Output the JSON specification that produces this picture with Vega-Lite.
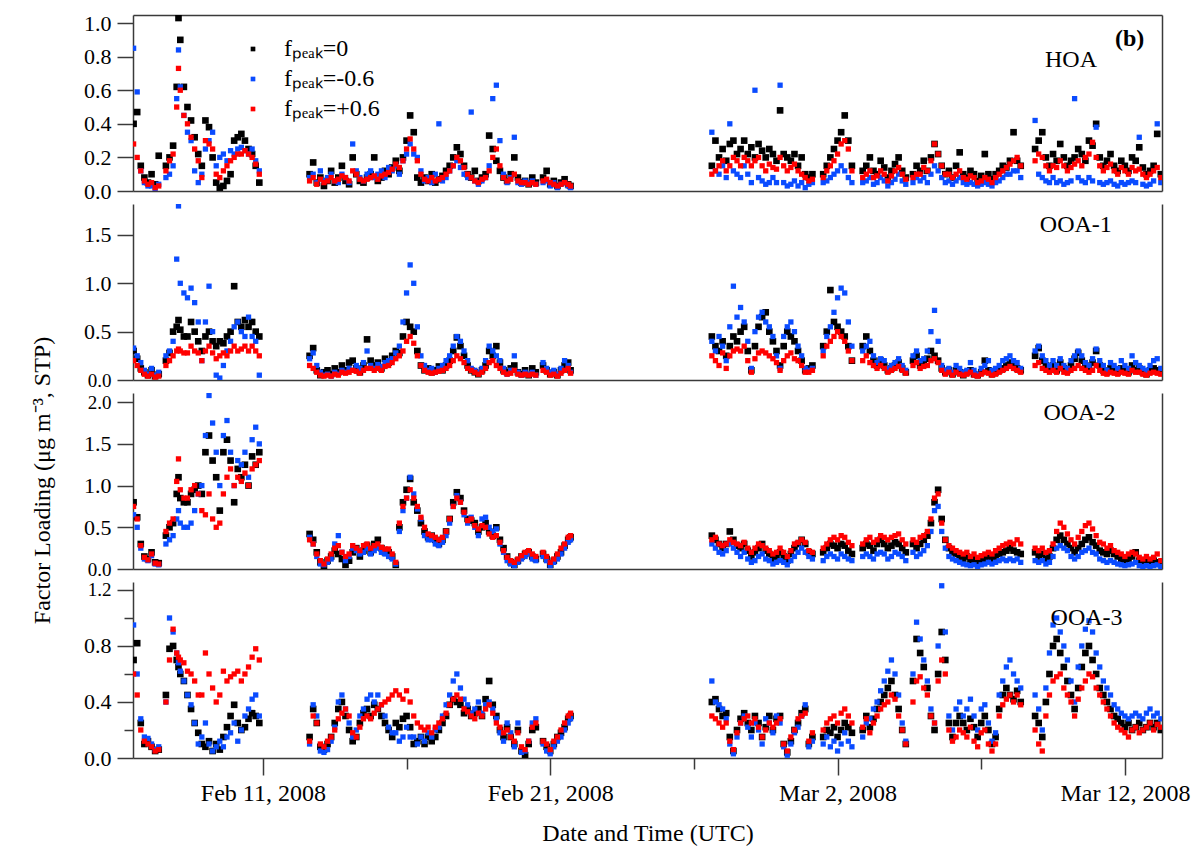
{
"$schema":"https://vega.github.io/schema/vega-lite/v6.json",
"background":"white",
"padding":{"left":30,"top":12,"right":5,"bottom":5},
"config":{
 "font":"Liberation Serif",
 "view":{"stroke":null},
 "axis":{"labelFont":"Liberation Serif","titleFont":"Liberation Serif","labelFontSize":24,"titleFontSize":24,"labelColor":"#000","titleColor":"#000","titleFontWeight":"normal","domainColor":"#3a3a3a","tickColor":"#3a3a3a","domainWidth":1.5,"tickWidth":1.5,"grid":false,"labelOverlap":false,"labelFlush":false},
 "axisY":{"tickSize":16,"labelPadding":6,"labelFontSize":22},
 "axisX":{"tickSize":17,"labelPadding":6}
},
"data":{"values":[
{"t":"2008-02-06T12:00Z","h0":0.40,"h1":0.85,"h2":0.28,"p0":0.30,"p1":0.33,"p2":0.20,"q0":0.80,"q1":0.65,"q2":0.75,"r0":0.70,"r1":0.95,"r2":0.60},
{"t":"2008-02-06T15:00Z","h0":0.47,"h1":0.59,"h2":0.20,"p0":0.22,"p1":0.25,"p2":0.15,"q0":0.62,"q1":0.50,"q2":0.60,"r0":0.82,"r1":0.60,"r2":0.45},
{"t":"2008-02-06T18:00Z","h0":0.15,"h1":0.12,"h2":0.12,"p0":0.12,"p1":0.18,"p2":0.10,"q0":0.30,"q1":0.25,"q2":0.28,"r0":0.25,"r1":0.28,"r2":0.20},
{"t":"2008-02-06T21:00Z","h0":0.08,"h1":0.05,"h2":0.06,"p0":0.08,"p1":0.10,"p2":0.06,"q0":0.15,"q1":0.12,"q2":0.14,"r0":0.10,"r1":0.15,"r2":0.12},
{"t":"2008-02-07T00:00Z","h0":0.05,"h1":0.03,"h2":0.04,"p0":0.05,"p1":0.06,"p2":0.04,"q0":0.12,"q1":0.10,"q2":0.11,"r0":0.12,"r1":0.14,"r2":0.10},
{"t":"2008-02-07T03:00Z","h0":0.10,"h1":0.03,"h2":0.05,"p0":0.10,"p1":0.12,"p2":0.06,"q0":0.20,"q1":0.16,"q2":0.18,"r0":0.08,"r1":0.10,"r2":0.08},
{"t":"2008-02-07T06:00Z","h0":0.04,"h1":0.01,"h2":0.02,"p0":0.04,"p1":0.05,"p2":0.03,"q0":0.08,"q1":0.06,"q2":0.07,"r0":0.05,"r1":0.06,"r2":0.05},
{"t":"2008-02-07T09:00Z","h0":0.21,"h1":0.04,"h2":0.03,"p0":0.06,"p1":0.08,"p2":0.04,"q0":0.07,"q1":0.05,"q2":0.06,"r0":0.06,"r1":0.08,"r2":0.06},
{"t":"2008-02-07T15:00Z","h0":0.15,"h1":0.08,"h2":0.12,"p0":0.20,"p1":0.25,"p2":0.15,"q0":0.40,"q1":0.30,"q2":0.45,"r0":0.45,"r1":0.40,"r2":0.40},
{"t":"2008-02-07T18:00Z","h0":0.20,"h1":0.10,"h2":0.18,"p0":0.28,"p1":0.30,"p2":0.20,"q0":0.50,"q1":0.35,"q2":0.55,"r0":0.78,"r1":1.00,"r2":0.70},
{"t":"2008-02-07T21:00Z","h0":0.27,"h1":0.15,"h2":0.22,"p0":0.50,"p1":0.40,"p2":0.25,"q0":0.55,"q1":0.40,"q2":0.60,"r0":0.80,"r1":0.90,"r2":0.92},
{"t":"2008-02-08T00:00Z","h0":0.62,"h1":0.55,"h2":0.50,"p0":0.55,"p1":1.25,"p2":0.30,"q0":0.90,"q1":0.60,"q2":1.05,"r0":0.70,"r1":0.75,"r2":0.75},
{"t":"2008-02-08T01:30Z","h0":1.03,"h1":0.84,"h2":0.73,"p0":0.62,"p1":1.80,"p2":0.32,"q0":1.10,"q1":0.70,"q2":1.32,"r0":0.65,"r1":0.68,"r2":0.72},
{"t":"2008-02-08T03:00Z","h0":0.90,"h1":0.62,"h2":0.60,"p0":0.52,"p1":1.00,"p2":0.30,"q0":0.85,"q1":0.55,"q2":0.95,"r0":0.60,"r1":0.62,"r2":0.70},
{"t":"2008-02-08T06:00Z","h0":0.62,"h1":0.45,"h2":0.45,"p0":0.45,"p1":0.90,"p2":0.28,"q0":0.80,"q1":0.50,"q2":0.85,"r0":0.55,"r1":0.55,"r2":0.68},
{"t":"2008-02-08T09:00Z","h0":0.50,"h1":0.35,"h2":0.40,"p0":0.45,"p1":0.85,"p2":0.28,"q0":0.80,"q1":0.50,"q2":0.85,"r0":0.45,"r1":0.45,"r2":0.62},
{"t":"2008-02-08T12:00Z","h0":0.42,"h1":0.30,"h2":0.32,"p0":0.60,"p1":0.95,"p2":0.35,"q0":0.90,"q1":0.55,"q2":0.95,"r0":0.35,"r1":0.38,"r2":0.60},
{"t":"2008-02-08T15:00Z","h0":0.32,"h1":0.12,"h2":0.25,"p0":0.50,"p1":0.80,"p2":0.30,"q0":0.95,"q1":0.70,"q2":1.00,"r0":0.25,"r1":0.25,"r2":0.55},
{"t":"2008-02-08T18:00Z","h0":0.22,"h1":0.05,"h2":0.18,"p0":0.40,"p1":0.60,"p2":0.28,"q0":1.00,"q1":0.90,"q2":0.90,"r0":0.18,"r1":0.10,"r2":0.45},
{"t":"2008-02-08T21:00Z","h0":0.15,"h1":0.10,"h2":0.08,"p0":0.30,"p1":0.20,"p2":0.20,"q0":0.90,"q1":1.00,"q2":0.70,"r0":0.10,"r1":0.15,"r2":0.45},
{"t":"2008-02-09T00:00Z","h0":0.42,"h1":0.25,"h2":0.30,"p0":0.45,"p1":0.60,"p2":0.30,"q0":1.40,"q1":1.60,"q2":0.65,"r0":0.08,"r1":0.25,"r2":0.75},
{"t":"2008-02-09T03:00Z","h0":0.38,"h1":0.30,"h2":0.28,"p0":0.50,"p1":0.97,"p2":0.35,"q0":1.60,"q1":2.08,"q2":0.90,"r0":0.12,"r1":0.10,"r2":0.60},
{"t":"2008-02-09T06:00Z","h0":0.20,"h1":0.35,"h2":0.25,"p0":0.40,"p1":0.50,"p2":0.28,"q0":1.30,"q1":1.75,"q2":0.60,"r0":0.05,"r1":0.05,"r2":0.50},
{"t":"2008-02-09T09:00Z","h0":0.05,"h1":0.15,"h2":0.10,"p0":0.35,"p1":0.05,"p2":0.22,"q0":1.10,"q1":1.40,"q2":0.50,"r0":0.10,"r1":0.08,"r2":0.40},
{"t":"2008-02-09T12:00Z","h0":0.02,"h1":0.20,"h2":0.08,"p0":0.40,"p1":0.02,"p2":0.25,"q0":0.70,"q1":1.00,"q2":0.55,"r0":0.06,"r1":0.12,"r2":0.45},
{"t":"2008-02-09T15:00Z","h0":0.03,"h1":0.22,"h2":0.12,"p0":0.38,"p1":0.15,"p2":0.28,"q0":1.40,"q1":1.60,"q2":0.90,"r0":0.15,"r1":0.08,"r2":0.62},
{"t":"2008-02-09T18:00Z","h0":0.06,"h1":0.18,"h2":0.15,"p0":0.45,"p1":0.30,"p2":0.25,"q0":1.55,"q1":1.78,"q2":1.10,"r0":0.22,"r1":0.15,"r2":0.55},
{"t":"2008-02-09T21:00Z","h0":0.10,"h1":0.24,"h2":0.18,"p0":0.50,"p1":0.40,"p2":0.30,"q0":1.30,"q1":1.40,"q2":1.20,"r0":0.30,"r1":0.18,"r2":0.58},
{"t":"2008-02-10T00:00Z","h0":0.30,"h1":0.22,"h2":0.20,"p0":0.97,"p1":0.55,"p2":0.35,"q0":0.80,"q1":1.00,"q2":1.00,"r0":0.38,"r1":0.25,"r2":0.60},
{"t":"2008-02-10T03:00Z","h0":0.32,"h1":0.25,"h2":0.22,"p0":0.60,"p1":0.60,"p2":0.30,"q0":1.20,"q1":1.30,"q2":1.10,"r0":0.25,"r1":0.12,"r2":0.62},
{"t":"2008-02-10T06:00Z","h0":0.34,"h1":0.26,"h2":0.22,"p0":0.55,"p1":0.50,"p2":0.32,"q0":1.10,"q1":1.25,"q2":1.05,"r0":0.20,"r1":0.20,"r2":0.55},
{"t":"2008-02-10T09:00Z","h0":0.30,"h1":0.24,"h2":0.24,"p0":0.62,"p1":0.45,"p2":0.35,"q0":1.25,"q1":1.40,"q2":1.15,"r0":0.22,"r1":0.30,"r2":0.60},
{"t":"2008-02-10T12:00Z","h0":0.25,"h1":0.22,"h2":0.22,"p0":0.55,"p1":0.65,"p2":0.30,"q0":1.00,"q1":1.10,"q2":1.00,"r0":0.28,"r1":0.35,"r2":0.65},
{"t":"2008-02-10T15:00Z","h0":0.22,"h1":0.25,"h2":0.20,"p0":0.60,"p1":0.45,"p2":0.35,"q0":1.35,"q1":1.55,"q2":1.20,"r0":0.32,"r1":0.42,"r2":0.72},
{"t":"2008-02-10T18:00Z","h0":0.15,"h1":0.18,"h2":0.16,"p0":0.50,"p1":0.40,"p2":0.30,"q0":1.25,"q1":1.70,"q2":1.25,"r0":0.30,"r1":0.45,"r2":0.78},
{"t":"2008-02-10T21:00Z","h0":0.05,"h1":0.12,"h2":0.10,"p0":0.45,"p1":0.05,"p2":0.25,"q0":1.40,"q1":1.50,"q2":1.30,"r0":0.25,"r1":0.30,"r2":0.70},
{"t":"2008-02-12T15:00Z","h0":0.10,"h1":0.08,"h2":0.06,"p0":0.25,"p1":0.22,"p2":0.15,"q0":0.42,"q1":0.38,"q2":0.35,"r0":0.15,"r1":0.10,"r2":0.12},
{"t":"2008-02-12T18:00Z","h0":0.17,"h1":0.10,"h2":0.08,"p0":0.33,"p1":0.28,"p2":0.12,"q0":0.35,"q1":0.30,"q2":0.30,"r0":0.35,"r1":0.38,"r2":0.30},
{"t":"2008-02-12T21:00Z","h0":0.05,"h1":0.05,"h2":0.04,"p0":0.10,"p1":0.15,"p2":0.08,"q0":0.20,"q1":0.15,"q2":0.18,"r0":0.25,"r1":0.30,"r2":0.25},
{"t":"2008-02-13T00:00Z","h0":0.08,"h1":0.12,"h2":0.07,"p0":0.05,"p1":0.08,"p2":0.05,"q0":0.08,"q1":0.06,"q2":0.10,"r0":0.08,"r1":0.05,"r2":0.10},
{"t":"2008-02-13T03:00Z","h0":0.03,"h1":0.06,"h2":0.05,"p0":0.08,"p1":0.05,"p2":0.04,"q0":0.03,"q1":0.05,"q2":0.06,"r0":0.06,"r1":0.04,"r2":0.08},
{"t":"2008-02-13T06:00Z","h0":0.06,"h1":0.08,"h2":0.06,"p0":0.10,"p1":0.06,"p2":0.05,"q0":0.10,"q1":0.08,"q2":0.12,"r0":0.10,"r1":0.06,"r2":0.12},
{"t":"2008-02-13T09:00Z","h0":0.12,"h1":0.10,"h2":0.08,"p0":0.06,"p1":0.04,"p2":0.04,"q0":0.15,"q1":0.12,"q2":0.18,"r0":0.15,"r1":0.12,"r2":0.15},
{"t":"2008-02-13T12:00Z","h0":0.05,"h1":0.06,"h2":0.06,"p0":0.12,"p1":0.08,"p2":0.06,"q0":0.22,"q1":0.30,"q2":0.25,"r0":0.25,"r1":0.22,"r2":0.20},
{"t":"2008-02-13T15:00Z","h0":0.08,"h1":0.05,"h2":0.07,"p0":0.08,"p1":0.06,"p2":0.05,"q0":0.18,"q1":0.40,"q2":0.28,"r0":0.35,"r1":0.40,"r2":0.28},
{"t":"2008-02-13T18:00Z","h0":0.15,"h1":0.10,"h2":0.09,"p0":0.15,"p1":0.10,"p2":0.08,"q0":0.12,"q1":0.20,"q2":0.20,"r0":0.40,"r1":0.45,"r2":0.32},
{"t":"2008-02-13T21:00Z","h0":0.06,"h1":0.08,"h2":0.08,"p0":0.10,"p1":0.08,"p2":0.07,"q0":0.05,"q1":0.10,"q2":0.15,"r0":0.30,"r1":0.35,"r2":0.35},
{"t":"2008-02-14T00:00Z","h0":0.04,"h1":0.05,"h2":0.06,"p0":0.18,"p1":0.12,"p2":0.08,"q0":0.10,"q1":0.15,"q2":0.18,"r0":0.20,"r1":0.25,"r2":0.30},
{"t":"2008-02-14T03:00Z","h0":0.20,"h1":0.28,"h2":0.12,"p0":0.20,"p1":0.10,"p2":0.10,"q0":0.20,"q1":0.25,"q2":0.28,"r0":0.12,"r1":0.15,"r2":0.18},
{"t":"2008-02-14T06:00Z","h0":0.10,"h1":0.12,"h2":0.10,"p0":0.12,"p1":0.15,"p2":0.09,"q0":0.25,"q1":0.22,"q2":0.25,"r0":0.15,"r1":0.20,"r2":0.15},
{"t":"2008-02-14T09:00Z","h0":0.06,"h1":0.08,"h2":0.07,"p0":0.08,"p1":0.12,"p2":0.07,"q0":0.15,"q1":0.18,"q2":0.22,"r0":0.25,"r1":0.30,"r2":0.22},
{"t":"2008-02-14T12:00Z","h0":0.05,"h1":0.06,"h2":0.06,"p0":0.15,"p1":0.18,"p2":0.10,"q0":0.22,"q1":0.20,"q2":0.28,"r0":0.32,"r1":0.35,"r2":0.28},
{"t":"2008-02-14T15:00Z","h0":0.08,"h1":0.10,"h2":0.07,"p0":0.42,"p1":0.30,"p2":0.12,"q0":0.28,"q1":0.25,"q2":0.30,"r0":0.35,"r1":0.42,"r2":0.30},
{"t":"2008-02-14T18:00Z","h0":0.10,"h1":0.12,"h2":0.08,"p0":0.20,"p1":0.15,"p2":0.12,"q0":0.20,"q1":0.18,"q2":0.25,"r0":0.30,"r1":0.45,"r2":0.28},
{"t":"2008-02-14T21:00Z","h0":0.20,"h1":0.08,"h2":0.09,"p0":0.15,"p1":0.12,"p2":0.10,"q0":0.30,"q1":0.22,"q2":0.28,"r0":0.38,"r1":0.40,"r2":0.32},
{"t":"2008-02-15T00:00Z","h0":0.06,"h1":0.10,"h2":0.07,"p0":0.18,"p1":0.16,"p2":0.12,"q0":0.35,"q1":0.25,"q2":0.30,"r0":0.35,"r1":0.45,"r2":0.35},
{"t":"2008-02-15T03:00Z","h0":0.08,"h1":0.12,"h2":0.09,"p0":0.12,"p1":0.14,"p2":0.10,"q0":0.25,"q1":0.20,"q2":0.26,"r0":0.30,"r1":0.38,"r2":0.38},
{"t":"2008-02-15T06:00Z","h0":0.12,"h1":0.08,"h2":0.10,"p0":0.22,"p1":0.18,"p2":0.14,"q0":0.20,"q1":0.18,"q2":0.24,"r0":0.25,"r1":0.30,"r2":0.40},
{"t":"2008-02-15T09:00Z","h0":0.10,"h1":0.14,"h2":0.11,"p0":0.18,"p1":0.20,"p2":0.15,"q0":0.20,"q1":0.15,"q2":0.24,"r0":0.20,"r1":0.22,"r2":0.42},
{"t":"2008-02-15T12:00Z","h0":0.14,"h1":0.12,"h2":0.13,"p0":0.25,"p1":0.22,"p2":0.18,"q0":0.15,"q1":0.12,"q2":0.18,"r0":0.15,"r1":0.18,"r2":0.45},
{"t":"2008-02-15T15:00Z","h0":0.18,"h1":0.15,"h2":0.16,"p0":0.30,"p1":0.28,"p2":0.22,"q0":0.05,"q1":0.06,"q2":0.08,"r0":0.25,"r1":0.18,"r2":0.48},
{"t":"2008-02-15T18:00Z","h0":0.12,"h1":0.10,"h2":0.14,"p0":0.28,"p1":0.35,"p2":0.25,"q0":0.50,"q1":0.45,"q2":0.55,"r0":0.22,"r1":0.12,"r2":0.45},
{"t":"2008-02-15T21:00Z","h0":0.20,"h1":0.18,"h2":0.18,"p0":0.45,"p1":0.60,"p2":0.30,"q0":0.80,"q1":0.70,"q2":0.75,"r0":0.28,"r1":0.15,"r2":0.42},
{"t":"2008-02-16T00:00Z","h0":0.30,"h1":0.22,"h2":0.25,"p0":0.60,"p1":0.90,"p2":0.40,"q0":0.95,"q1":0.85,"q2":0.85,"r0":0.30,"r1":0.22,"r2":0.48},
{"t":"2008-02-16T03:00Z","h0":0.45,"h1":0.28,"h2":0.31,"p0":0.55,"p1":1.19,"p2":0.45,"q0":1.08,"q1":1.10,"q2":0.95,"r0":0.22,"r1":0.15,"r2":0.40},
{"t":"2008-02-16T06:00Z","h0":0.35,"h1":0.22,"h2":0.25,"p0":0.50,"p1":1.00,"p2":0.38,"q0":0.80,"q1":0.90,"q2":0.85,"r0":0.10,"r1":0.15,"r2":0.30},
{"t":"2008-02-16T09:00Z","h0":0.08,"h1":0.20,"h2":0.18,"p0":0.30,"p1":0.55,"p2":0.25,"q0":0.70,"q1":0.72,"q2":0.75,"r0":0.12,"r1":0.10,"r2":0.25},
{"t":"2008-02-16T12:00Z","h0":0.05,"h1":0.12,"h2":0.10,"p0":0.15,"p1":0.25,"p2":0.15,"q0":0.55,"q1":0.60,"q2":0.62,"r0":0.15,"r1":0.15,"r2":0.22},
{"t":"2008-02-16T15:00Z","h0":0.08,"h1":0.06,"h2":0.07,"p0":0.10,"p1":0.15,"p2":0.10,"q0":0.45,"q1":0.40,"q2":0.50,"r0":0.10,"r1":0.12,"r2":0.20},
{"t":"2008-02-16T18:00Z","h0":0.06,"h1":0.08,"h2":0.06,"p0":0.12,"p1":0.10,"p2":0.08,"q0":0.38,"q1":0.35,"q2":0.42,"r0":0.15,"r1":0.18,"r2":0.22},
{"t":"2008-02-16T21:00Z","h0":0.10,"h1":0.05,"h2":0.08,"p0":0.08,"p1":0.12,"p2":0.07,"q0":0.40,"q1":0.35,"q2":0.40,"r0":0.12,"r1":0.15,"r2":0.18},
{"t":"2008-02-17T00:00Z","h0":0.05,"h1":0.10,"h2":0.06,"p0":0.10,"p1":0.08,"p2":0.08,"q0":0.35,"q1":0.30,"q2":0.38,"r0":0.15,"r1":0.20,"r2":0.22},
{"t":"2008-02-17T03:00Z","h0":0.07,"h1":0.40,"h2":0.07,"p0":0.14,"p1":0.12,"p2":0.09,"q0":0.30,"q1":0.28,"q2":0.35,"r0":0.20,"r1":0.22,"r2":0.25},
{"t":"2008-02-17T06:00Z","h0":0.09,"h1":0.06,"h2":0.08,"p0":0.10,"p1":0.15,"p2":0.10,"q0":0.35,"q1":0.32,"q2":0.38,"r0":0.25,"r1":0.30,"r2":0.28},
{"t":"2008-02-17T09:00Z","h0":0.12,"h1":0.08,"h2":0.10,"p0":0.15,"p1":0.20,"p2":0.12,"q0":0.45,"q1":0.40,"q2":0.45,"r0":0.30,"r1":0.38,"r2":0.32},
{"t":"2008-02-17T12:00Z","h0":0.15,"h1":0.12,"h2":0.12,"p0":0.20,"p1":0.25,"p2":0.15,"q0":0.60,"q1":0.55,"q2":0.60,"r0":0.38,"r1":0.45,"r2":0.38},
{"t":"2008-02-17T15:00Z","h0":0.20,"h1":0.15,"h2":0.15,"p0":0.30,"p1":0.35,"p2":0.20,"q0":0.80,"q1":0.75,"q2":0.75,"r0":0.42,"r1":0.55,"r2":0.42},
{"t":"2008-02-17T18:00Z","h0":0.26,"h1":0.18,"h2":0.20,"p0":0.44,"p1":0.45,"p2":0.25,"q0":0.92,"q1":0.88,"q2":0.85,"r0":0.40,"r1":0.60,"r2":0.45},
{"t":"2008-02-17T21:00Z","h0":0.22,"h1":0.14,"h2":0.18,"p0":0.35,"p1":0.40,"p2":0.22,"q0":0.85,"q1":0.80,"q2":0.80,"r0":0.38,"r1":0.50,"r2":0.42},
{"t":"2008-02-18T00:00Z","h0":0.15,"h1":0.10,"h2":0.14,"p0":0.25,"p1":0.30,"p2":0.18,"q0":0.70,"q1":0.65,"q2":0.68,"r0":0.32,"r1":0.42,"r2":0.35},
{"t":"2008-02-18T03:00Z","h0":0.10,"h1":0.08,"h2":0.10,"p0":0.15,"p1":0.20,"p2":0.12,"q0":0.60,"q1":0.55,"q2":0.58,"r0":0.35,"r1":0.38,"r2":0.33},
{"t":"2008-02-18T06:00Z","h0":0.08,"h1":0.47,"h2":0.08,"p0":0.10,"p1":0.12,"p2":0.10,"q0":0.58,"q1":0.62,"q2":0.60,"r0":0.30,"r1":0.32,"r2":0.30},
{"t":"2008-02-18T09:00Z","h0":0.12,"h1":0.06,"h2":0.06,"p0":0.08,"p1":0.10,"p2":0.08,"q0":0.55,"q1":0.50,"q2":0.52,"r0":0.32,"r1":0.35,"r2":0.28},
{"t":"2008-02-18T12:00Z","h0":0.06,"h1":0.04,"h2":0.05,"p0":0.06,"p1":0.08,"p2":0.06,"q0":0.45,"q1":0.40,"q2":0.48,"r0":0.35,"r1":0.40,"r2":0.32},
{"t":"2008-02-18T15:00Z","h0":0.08,"h1":0.06,"h2":0.07,"p0":0.10,"p1":0.12,"p2":0.08,"q0":0.50,"q1":0.60,"q2":0.52,"r0":0.30,"r1":0.32,"r2":0.30},
{"t":"2008-02-18T18:00Z","h0":0.10,"h1":0.08,"h2":0.08,"p0":0.15,"p1":0.20,"p2":0.12,"q0":0.55,"q1":0.62,"q2":0.50,"r0":0.42,"r1":0.38,"r2":0.35},
{"t":"2008-02-18T21:00Z","h0":0.33,"h1":0.15,"h2":0.12,"p0":0.30,"p1":0.35,"p2":0.18,"q0":0.45,"q1":0.50,"q2":0.42,"r0":0.55,"r1":0.40,"r2":0.38},
{"t":"2008-02-19T00:00Z","h0":0.25,"h1":0.55,"h2":0.20,"p0":0.25,"p1":0.30,"p2":0.20,"q0":0.40,"q1":0.45,"q2":0.38,"r0":0.38,"r1":0.35,"r2":0.32},
{"t":"2008-02-19T03:00Z","h0":0.18,"h1":0.63,"h2":0.25,"p0":0.35,"p1":0.25,"p2":0.15,"q0":0.50,"q1":0.48,"q2":0.40,"r0":0.30,"r1":0.28,"r2":0.25},
{"t":"2008-02-19T06:00Z","h0":0.12,"h1":0.30,"h2":0.15,"p0":0.18,"p1":0.20,"p2":0.12,"q0":0.35,"q1":0.30,"q2":0.32,"r0":0.20,"r1":0.18,"r2":0.22},
{"t":"2008-02-19T09:00Z","h0":0.08,"h1":0.10,"h2":0.08,"p0":0.10,"p1":0.12,"p2":0.08,"q0":0.25,"q1":0.20,"q2":0.22,"r0":0.15,"r1":0.12,"r2":0.18},
{"t":"2008-02-19T12:00Z","h0":0.06,"h1":0.05,"h2":0.06,"p0":0.08,"p1":0.06,"p2":0.06,"q0":0.15,"q1":0.10,"q2":0.14,"r0":0.22,"r1":0.25,"r2":0.20},
{"t":"2008-02-19T15:00Z","h0":0.10,"h1":0.08,"h2":0.07,"p0":0.12,"p1":0.10,"p2":0.07,"q0":0.08,"q1":0.06,"q2":0.10,"r0":0.15,"r1":0.18,"r2":0.15},
{"t":"2008-02-19T18:00Z","h0":0.20,"h1":0.32,"h2":0.10,"p0":0.15,"p1":0.25,"p2":0.10,"q0":0.05,"q1":0.04,"q2":0.08,"r0":0.10,"r1":0.08,"r2":0.12},
{"t":"2008-02-19T21:00Z","h0":0.08,"h1":0.05,"h2":0.06,"p0":0.08,"p1":0.08,"p2":0.06,"q0":0.10,"q1":0.08,"q2":0.12,"r0":0.20,"r1":0.25,"r2":0.18},
{"t":"2008-02-20T00:00Z","h0":0.05,"h1":0.04,"h2":0.05,"p0":0.06,"p1":0.05,"p2":0.05,"q0":0.15,"q1":0.12,"q2":0.16,"r0":0.05,"r1":0.04,"r2":0.08},
{"t":"2008-02-20T03:00Z","h0":0.06,"h1":0.06,"h2":0.05,"p0":0.10,"p1":0.08,"p2":0.06,"q0":0.18,"q1":0.15,"q2":0.20,"r0":0.02,"r1":0.05,"r2":0.06},
{"t":"2008-02-20T06:00Z","h0":0.04,"h1":0.05,"h2":0.04,"p0":0.05,"p1":0.06,"p2":0.05,"q0":0.20,"q1":0.18,"q2":0.22,"r0":0.10,"r1":0.12,"r2":0.12},
{"t":"2008-02-20T09:00Z","h0":0.08,"h1":0.06,"h2":0.05,"p0":0.12,"p1":0.08,"p2":0.06,"q0":0.15,"q1":0.12,"q2":0.18,"r0":0.20,"r1":0.25,"r2":0.22},
{"t":"2008-02-20T12:00Z","h0":0.05,"h1":0.04,"h2":0.04,"p0":0.08,"p1":0.05,"p2":0.05,"q0":0.12,"q1":0.10,"q2":0.15,"r0":0.22,"r1":0.28,"r2":0.25},
{"t":"2008-02-20T18:00Z","h0":0.08,"h1":0.05,"h2":0.06,"p0":0.15,"p1":0.18,"p2":0.10,"q0":0.18,"q1":0.15,"q2":0.20,"r0":0.12,"r1":0.10,"r2":0.12},
{"t":"2008-02-20T21:00Z","h0":0.12,"h1":0.06,"h2":0.07,"p0":0.10,"p1":0.12,"p2":0.08,"q0":0.12,"q1":0.10,"q2":0.15,"r0":0.08,"r1":0.05,"r2":0.10},
{"t":"2008-02-21T00:00Z","h0":0.04,"h1":0.03,"h2":0.05,"p0":0.06,"p1":0.08,"p2":0.05,"q0":0.05,"q1":0.04,"q2":0.08,"r0":0.05,"r1":0.03,"r2":0.06},
{"t":"2008-02-21T03:00Z","h0":0.06,"h1":0.05,"h2":0.04,"p0":0.08,"p1":0.10,"p2":0.06,"q0":0.10,"q1":0.08,"q2":0.12,"r0":0.10,"r1":0.08,"r2":0.12},
{"t":"2008-02-21T06:00Z","h0":0.03,"h1":0.02,"h2":0.03,"p0":0.05,"p1":0.06,"p2":0.04,"q0":0.15,"q1":0.12,"q2":0.18,"r0":0.15,"r1":0.12,"r2":0.15},
{"t":"2008-02-21T09:00Z","h0":0.05,"h1":0.04,"h2":0.04,"p0":0.10,"p1":0.12,"p2":0.07,"q0":0.20,"q1":0.18,"q2":0.25,"r0":0.18,"r1":0.15,"r2":0.20},
{"t":"2008-02-21T12:00Z","h0":0.07,"h1":0.05,"h2":0.05,"p0":0.15,"p1":0.20,"p2":0.10,"q0":0.28,"q1":0.25,"q2":0.30,"r0":0.22,"r1":0.20,"r2":0.25},
{"t":"2008-02-21T15:00Z","h0":0.04,"h1":0.03,"h2":0.04,"p0":0.18,"p1":0.15,"p2":0.12,"q0":0.35,"q1":0.32,"q2":0.38,"r0":0.28,"r1":0.25,"r2":0.30},
{"t":"2008-02-21T17:00Z","h0":0.03,"h1":0.02,"h2":0.03,"p0":0.10,"p1":0.08,"p2":0.07,"q0":0.38,"q1":0.35,"q2":0.40,"r0":0.30,"r1":0.28,"r2":0.32},
{"t":"2008-02-26T15:00Z","h0":0.15,"h1":0.35,"h2":0.10,"p0":0.45,"p1":0.40,"p2":0.25,"q0":0.40,"q1":0.30,"q2":0.35,"r0":0.40,"r1":0.55,"r2":0.30},
{"t":"2008-02-26T18:00Z","h0":0.30,"h1":0.12,"h2":0.12,"p0":0.35,"p1":0.30,"p2":0.20,"q0":0.35,"q1":0.25,"q2":0.38,"r0":0.42,"r1":0.40,"r2":0.28},
{"t":"2008-02-26T21:00Z","h0":0.20,"h1":0.10,"h2":0.15,"p0":0.30,"p1":0.45,"p2":0.15,"q0":0.30,"q1":0.20,"q2":0.30,"r0":0.35,"r1":0.38,"r2":0.25},
{"t":"2008-02-27T00:00Z","h0":0.25,"h1":0.15,"h2":0.18,"p0":0.40,"p1":0.35,"p2":0.28,"q0":0.25,"q1":0.18,"q2":0.28,"r0":0.30,"r1":0.35,"r2":0.22},
{"t":"2008-02-27T03:00Z","h0":0.18,"h1":0.08,"h2":0.12,"p0":0.25,"p1":0.20,"p2":0.12,"q0":0.30,"q1":0.22,"q2":0.30,"r0":0.32,"r1":0.28,"r2":0.25},
{"t":"2008-02-27T06:00Z","h0":0.28,"h1":0.40,"h2":0.15,"p0":0.35,"p1":0.55,"p2":0.25,"q0":0.45,"q1":0.30,"q2":0.35,"r0":0.15,"r1":0.10,"r2":0.12},
{"t":"2008-02-27T09:00Z","h0":0.30,"h1":0.12,"h2":0.20,"p0":0.45,"p1":0.97,"p2":0.30,"q0":0.35,"q1":0.25,"q2":0.32,"r0":0.05,"r1":0.03,"r2":0.06},
{"t":"2008-02-27T12:00Z","h0":0.22,"h1":0.10,"h2":0.18,"p0":0.40,"p1":0.65,"p2":0.32,"q0":0.28,"q1":0.20,"q2":0.30,"r0":0.20,"r1":0.15,"r2":0.18},
{"t":"2008-02-27T15:00Z","h0":0.25,"h1":0.08,"h2":0.15,"p0":0.50,"p1":0.75,"p2":0.30,"q0":0.25,"q1":0.15,"q2":0.28,"r0":0.28,"r1":0.25,"r2":0.25},
{"t":"2008-02-27T18:00Z","h0":0.30,"h1":0.15,"h2":0.20,"p0":0.55,"p1":0.60,"p2":0.35,"q0":0.30,"q1":0.20,"q2":0.32,"r0":0.32,"r1":0.30,"r2":0.28},
{"t":"2008-02-27T21:00Z","h0":0.22,"h1":0.10,"h2":0.18,"p0":0.30,"p1":0.40,"p2":0.20,"q0":0.22,"q1":0.12,"q2":0.25,"r0":0.25,"r1":0.22,"r2":0.30},
{"t":"2008-02-28T00:00Z","h0":0.26,"h1":0.05,"h2":0.15,"p0":0.10,"p1":0.12,"p2":0.08,"q0":0.15,"q1":0.08,"q2":0.20,"r0":0.20,"r1":0.15,"r2":0.25},
{"t":"2008-02-28T03:00Z","h0":0.20,"h1":0.60,"h2":0.18,"p0":0.35,"p1":0.50,"p2":0.22,"q0":0.20,"q1":0.10,"q2":0.25,"r0":0.30,"r1":0.25,"r2":0.28},
{"t":"2008-02-28T06:00Z","h0":0.28,"h1":0.08,"h2":0.20,"p0":0.55,"p1":0.65,"p2":0.28,"q0":0.25,"q1":0.15,"q2":0.30,"r0":0.25,"r1":0.20,"r2":0.22},
{"t":"2008-02-28T09:00Z","h0":0.24,"h1":0.06,"h2":0.15,"p0":0.65,"p1":0.70,"p2":0.30,"q0":0.30,"q1":0.18,"q2":0.28,"r0":0.15,"r1":0.10,"r2":0.15},
{"t":"2008-02-28T12:00Z","h0":0.20,"h1":0.04,"h2":0.12,"p0":0.70,"p1":0.60,"p2":0.28,"q0":0.22,"q1":0.12,"q2":0.25,"r0":0.22,"r1":0.28,"r2":0.20},
{"t":"2008-02-28T15:00Z","h0":0.25,"h1":0.05,"h2":0.16,"p0":0.50,"p1":0.55,"p2":0.25,"q0":0.18,"q1":0.10,"q2":0.22,"r0":0.30,"r1":0.25,"r2":0.25},
{"t":"2008-02-28T18:00Z","h0":0.22,"h1":0.08,"h2":0.14,"p0":0.40,"p1":0.45,"p2":0.22,"q0":0.12,"q1":0.06,"q2":0.18,"r0":0.20,"r1":0.18,"r2":0.22},
{"t":"2008-02-28T21:00Z","h0":0.18,"h1":0.05,"h2":0.13,"p0":0.30,"p1":0.25,"p2":0.18,"q0":0.15,"q1":0.08,"q2":0.20,"r0":0.28,"r1":0.30,"r2":0.25},
{"t":"2008-02-29T00:00Z","h0":0.48,"h1":0.63,"h2":0.20,"p0":0.15,"p1":0.12,"p2":0.10,"q0":0.20,"q1":0.10,"q2":0.25,"r0":0.30,"r1":0.25,"r2":0.28},
{"t":"2008-02-29T03:00Z","h0":0.22,"h1":0.05,"h2":0.15,"p0":0.35,"p1":0.45,"p2":0.20,"q0":0.15,"q1":0.08,"q2":0.20,"r0":0.10,"r1":0.08,"r2":0.10},
{"t":"2008-02-29T06:00Z","h0":0.20,"h1":0.03,"h2":0.12,"p0":0.50,"p1":0.55,"p2":0.25,"q0":0.10,"q1":0.05,"q2":0.15,"r0":0.04,"r1":0.02,"r2":0.05},
{"t":"2008-02-29T09:00Z","h0":0.18,"h1":0.04,"h2":0.14,"p0":0.45,"p1":0.60,"p2":0.28,"q0":0.18,"q1":0.10,"q2":0.22,"r0":0.12,"r1":0.10,"r2":0.15},
{"t":"2008-02-29T12:00Z","h0":0.22,"h1":0.06,"h2":0.16,"p0":0.40,"p1":0.50,"p2":0.22,"q0":0.25,"q1":0.15,"q2":0.30,"r0":0.20,"r1":0.18,"r2":0.20},
{"t":"2008-02-29T15:00Z","h0":0.15,"h1":0.03,"h2":0.12,"p0":0.30,"p1":0.35,"p2":0.20,"q0":0.30,"q1":0.20,"q2":0.32,"r0":0.25,"r1":0.22,"r2":0.28},
{"t":"2008-02-29T18:00Z","h0":0.20,"h1":0.05,"h2":0.10,"p0":0.20,"p1":0.25,"p2":0.15,"q0":0.35,"q1":0.25,"q2":0.35,"r0":0.32,"r1":0.30,"r2":0.30},
{"t":"2008-02-29T21:00Z","h0":0.10,"h1":0.02,"h2":0.08,"p0":0.10,"p1":0.12,"p2":0.08,"q0":0.30,"q1":0.20,"q2":0.32,"r0":0.35,"r1":0.38,"r2":0.32},
{"t":"2008-03-01T00:00Z","h0":0.08,"h1":0.04,"h2":0.06,"p0":0.12,"p1":0.10,"p2":0.08,"q0":0.20,"q1":0.15,"q2":0.22,"r0":0.10,"r1":0.08,"r2":0.12},
{"t":"2008-03-01T03:00Z","h0":0.10,"h1":0.05,"h2":0.07,"p0":0.15,"p1":0.12,"p2":0.10,"q0":0.18,"q1":0.12,"q2":0.20,"r0":0.15,"r1":0.12,"r2":0.18},
{"t":"2008-03-01T12:00Z","h0":0.10,"h1":0.05,"h2":0.08,"p0":0.35,"p1":0.30,"p2":0.25,"q0":0.20,"q1":0.10,"q2":0.25,"r0":0.15,"r1":0.10,"r2":0.20},
{"t":"2008-03-01T15:00Z","h0":0.15,"h1":0.06,"h2":0.12,"p0":0.50,"p1":0.45,"p2":0.35,"q0":0.25,"q1":0.15,"q2":0.30,"r0":0.20,"r1":0.15,"r2":0.25},
{"t":"2008-03-01T18:00Z","h0":0.20,"h1":0.08,"h2":0.15,"p0":0.93,"p1":0.55,"p2":0.40,"q0":0.30,"q1":0.18,"q2":0.35,"r0":0.18,"r1":0.08,"r2":0.28},
{"t":"2008-03-01T21:00Z","h0":0.25,"h1":0.10,"h2":0.18,"p0":0.60,"p1":0.70,"p2":0.45,"q0":0.28,"q1":0.15,"q2":0.38,"r0":0.22,"r1":0.12,"r2":0.30},
{"t":"2008-03-02T00:00Z","h0":0.30,"h1":0.12,"h2":0.22,"p0":0.55,"p1":0.85,"p2":0.50,"q0":0.25,"q1":0.12,"q2":0.35,"r0":0.15,"r1":0.05,"r2":0.25},
{"t":"2008-03-02T03:00Z","h0":0.35,"h1":0.15,"h2":0.28,"p0":0.50,"p1":0.95,"p2":0.45,"q0":0.30,"q1":0.18,"q2":0.40,"r0":0.20,"r1":0.10,"r2":0.32},
{"t":"2008-03-02T06:00Z","h0":0.45,"h1":0.12,"h2":0.30,"p0":0.45,"p1":0.90,"p2":0.40,"q0":0.28,"q1":0.15,"q2":0.38,"r0":0.25,"r1":0.18,"r2":0.35},
{"t":"2008-03-02T09:00Z","h0":0.30,"h1":0.08,"h2":0.25,"p0":0.35,"p1":0.60,"p2":0.30,"q0":0.22,"q1":0.12,"q2":0.32,"r0":0.22,"r1":0.12,"r2":0.30},
{"t":"2008-03-02T12:00Z","h0":0.15,"h1":0.05,"h2":0.12,"p0":0.20,"p1":0.35,"p2":0.20,"q0":0.18,"q1":0.10,"q2":0.28,"r0":0.18,"r1":0.08,"r2":0.25},
{"t":"2008-03-02T21:00Z","h0":0.12,"h1":0.05,"h2":0.08,"p0":0.35,"p1":0.30,"p2":0.20,"q0":0.25,"q1":0.15,"q2":0.30,"r0":0.20,"r1":0.15,"r2":0.22},
{"t":"2008-03-03T00:00Z","h0":0.15,"h1":0.06,"h2":0.10,"p0":0.45,"p1":0.35,"p2":0.25,"q0":0.30,"q1":0.18,"q2":0.35,"r0":0.30,"r1":0.25,"r2":0.28},
{"t":"2008-03-03T03:00Z","h0":0.20,"h1":0.08,"h2":0.12,"p0":0.30,"p1":0.40,"p2":0.18,"q0":0.28,"q1":0.15,"q2":0.38,"r0":0.22,"r1":0.28,"r2":0.18},
{"t":"2008-03-03T06:00Z","h0":0.12,"h1":0.04,"h2":0.08,"p0":0.20,"p1":0.25,"p2":0.15,"q0":0.22,"q1":0.12,"q2":0.32,"r0":0.28,"r1":0.35,"r2":0.25},
{"t":"2008-03-03T09:00Z","h0":0.10,"h1":0.05,"h2":0.09,"p0":0.15,"p1":0.18,"p2":0.12,"q0":0.30,"q1":0.18,"q2":0.35,"r0":0.35,"r1":0.40,"r2":0.30},
{"t":"2008-03-03T12:00Z","h0":0.18,"h1":0.08,"h2":0.12,"p0":0.20,"p1":0.22,"p2":0.15,"q0":0.35,"q1":0.20,"q2":0.40,"r0":0.40,"r1":0.48,"r2":0.35},
{"t":"2008-03-03T15:00Z","h0":0.14,"h1":0.06,"h2":0.10,"p0":0.15,"p1":0.20,"p2":0.12,"q0":0.30,"q1":0.18,"q2":0.38,"r0":0.45,"r1":0.55,"r2":0.38},
{"t":"2008-03-03T18:00Z","h0":0.08,"h1":0.03,"h2":0.06,"p0":0.10,"p1":0.12,"p2":0.08,"q0":0.25,"q1":0.12,"q2":0.35,"r0":0.50,"r1":0.62,"r2":0.40},
{"t":"2008-03-03T21:00Z","h0":0.12,"h1":0.05,"h2":0.09,"p0":0.12,"p1":0.15,"p2":0.10,"q0":0.28,"q1":0.15,"q2":0.38,"r0":0.55,"r1":0.70,"r2":0.45},
{"t":"2008-03-04T00:00Z","h0":0.16,"h1":0.07,"h2":0.12,"p0":0.15,"p1":0.18,"p2":0.12,"q0":0.32,"q1":0.20,"q2":0.40,"r0":0.45,"r1":0.60,"r2":0.42},
{"t":"2008-03-04T03:00Z","h0":0.20,"h1":0.10,"h2":0.14,"p0":0.18,"p1":0.22,"p2":0.14,"q0":0.30,"q1":0.18,"q2":0.42,"r0":0.35,"r1":0.45,"r2":0.30},
{"t":"2008-03-04T06:00Z","h0":0.12,"h1":0.06,"h2":0.10,"p0":0.12,"p1":0.15,"p2":0.10,"q0":0.25,"q1":0.15,"q2":0.35,"r0":0.20,"r1":0.25,"r2":0.20},
{"t":"2008-03-04T09:00Z","h0":0.08,"h1":0.04,"h2":0.07,"p0":0.08,"p1":0.10,"p2":0.07,"q0":0.20,"q1":0.10,"q2":0.30,"r0":0.10,"r1":0.12,"r2":0.10},
{"t":"2008-03-04T15:00Z","h0":0.10,"h1":0.05,"h2":0.08,"p0":0.20,"p1":0.25,"p2":0.15,"q0":0.30,"q1":0.20,"q2":0.35,"r0":0.55,"r1":0.60,"r2":0.40},
{"t":"2008-03-04T18:00Z","h0":0.15,"h1":0.08,"h2":0.10,"p0":0.25,"p1":0.30,"p2":0.18,"q0":0.25,"q1":0.15,"q2":0.32,"r0":0.85,"r1":0.97,"r2":0.55},
{"t":"2008-03-04T21:00Z","h0":0.12,"h1":0.06,"h2":0.10,"p0":0.15,"p1":0.20,"p2":0.12,"q0":0.30,"q1":0.18,"q2":0.38,"r0":0.75,"r1":0.85,"r2":0.58},
{"t":"2008-03-05T00:00Z","h0":0.18,"h1":0.08,"h2":0.14,"p0":0.18,"p1":0.22,"p2":0.14,"q0":0.35,"q1":0.22,"q2":0.40,"r0":0.65,"r1":0.70,"r2":0.50},
{"t":"2008-03-05T03:00Z","h0":0.12,"h1":0.05,"h2":0.12,"p0":0.22,"p1":0.30,"p2":0.15,"q0":0.40,"q1":0.28,"q2":0.45,"r0":0.50,"r1":0.55,"r2":0.45},
{"t":"2008-03-05T06:00Z","h0":0.20,"h1":0.10,"h2":0.18,"p0":0.30,"p1":0.50,"p2":0.20,"q0":0.55,"q1":0.45,"q2":0.60,"r0":0.30,"r1":0.35,"r2":0.30},
{"t":"2008-03-05T09:00Z","h0":0.28,"h1":0.15,"h2":0.28,"p0":0.25,"p1":0.72,"p2":0.22,"q0":0.80,"q1":0.70,"q2":0.85,"r0":0.20,"r1":0.25,"r2":0.25},
{"t":"2008-03-05T12:00Z","h0":0.22,"h1":0.12,"h2":0.22,"p0":0.20,"p1":0.40,"p2":0.18,"q0":0.95,"q1":0.75,"q2":0.90,"r0":0.60,"r1":0.80,"r2":0.55},
{"t":"2008-03-05T15:00Z","h0":0.15,"h1":0.08,"h2":0.15,"p0":0.12,"p1":0.15,"p2":0.10,"q0":0.60,"q1":0.45,"q2":0.55,"r0":0.90,"r1":1.23,"r2":0.70},
{"t":"2008-03-05T18:00Z","h0":0.10,"h1":0.05,"h2":0.10,"p0":0.08,"p1":0.10,"p2":0.06,"q0":0.35,"q1":0.25,"q2":0.35,"r0":0.70,"r1":0.90,"r2":0.60},
{"t":"2008-03-05T21:00Z","h0":0.12,"h1":0.06,"h2":0.10,"p0":0.10,"p1":0.12,"p2":0.08,"q0":0.25,"q1":0.15,"q2":0.28,"r0":0.25,"r1":0.30,"r2":0.20},
{"t":"2008-03-06T00:00Z","h0":0.08,"h1":0.04,"h2":0.08,"p0":0.06,"p1":0.08,"p2":0.05,"q0":0.20,"q1":0.12,"q2":0.25,"r0":0.15,"r1":0.20,"r2":0.12},
{"t":"2008-03-06T03:00Z","h0":0.15,"h1":0.06,"h2":0.10,"p0":0.10,"p1":0.15,"p2":0.08,"q0":0.18,"q1":0.10,"q2":0.22,"r0":0.25,"r1":0.35,"r2":0.15},
{"t":"2008-03-06T06:00Z","h0":0.23,"h1":0.08,"h2":0.12,"p0":0.08,"p1":0.12,"p2":0.06,"q0":0.15,"q1":0.08,"q2":0.20,"r0":0.30,"r1":0.40,"r2":0.20},
{"t":"2008-03-06T09:00Z","h0":0.10,"h1":0.05,"h2":0.08,"p0":0.05,"p1":0.08,"p2":0.05,"q0":0.12,"q1":0.06,"q2":0.18,"r0":0.25,"r1":0.30,"r2":0.18},
{"t":"2008-03-06T12:00Z","h0":0.08,"h1":0.04,"h2":0.07,"p0":0.08,"p1":0.10,"p2":0.06,"q0":0.15,"q1":0.05,"q2":0.20,"r0":0.20,"r1":0.35,"r2":0.15},
{"t":"2008-03-06T15:00Z","h0":0.12,"h1":0.05,"h2":0.09,"p0":0.10,"p1":0.18,"p2":0.08,"q0":0.10,"q1":0.04,"q2":0.15,"r0":0.28,"r1":0.42,"r2":0.22},
{"t":"2008-03-06T18:00Z","h0":0.10,"h1":0.04,"h2":0.08,"p0":0.06,"p1":0.10,"p2":0.05,"q0":0.12,"q1":0.05,"q2":0.18,"r0":0.22,"r1":0.30,"r2":0.12},
{"t":"2008-03-06T21:00Z","h0":0.06,"h1":0.03,"h2":0.05,"p0":0.05,"p1":0.06,"p2":0.04,"q0":0.08,"q1":0.03,"q2":0.14,"r0":0.15,"r1":0.20,"r2":0.08},
{"t":"2008-03-07T00:00Z","h0":0.09,"h1":0.04,"h2":0.06,"p0":0.08,"p1":0.12,"p2":0.06,"q0":0.10,"q1":0.05,"q2":0.16,"r0":0.25,"r1":0.35,"r2":0.18},
{"t":"2008-03-07T03:00Z","h0":0.22,"h1":0.05,"h2":0.08,"p0":0.20,"p1":0.15,"p2":0.08,"q0":0.12,"q1":0.06,"q2":0.18,"r0":0.30,"r1":0.38,"r2":0.20},
{"t":"2008-03-07T06:00Z","h0":0.10,"h1":0.04,"h2":0.07,"p0":0.10,"p1":0.20,"p2":0.07,"q0":0.15,"q1":0.08,"q2":0.20,"r0":0.20,"r1":0.25,"r2":0.10},
{"t":"2008-03-07T09:00Z","h0":0.07,"h1":0.03,"h2":0.05,"p0":0.06,"p1":0.10,"p2":0.05,"q0":0.12,"q1":0.06,"q2":0.18,"r0":0.10,"r1":0.12,"r2":0.05},
{"t":"2008-03-07T12:00Z","h0":0.10,"h1":0.05,"h2":0.08,"p0":0.08,"p1":0.12,"p2":0.06,"q0":0.15,"q1":0.08,"q2":0.22,"r0":0.15,"r1":0.18,"r2":0.10},
{"t":"2008-03-07T15:00Z","h0":0.12,"h1":0.06,"h2":0.10,"p0":0.10,"p1":0.15,"p2":0.08,"q0":0.18,"q1":0.10,"q2":0.25,"r0":0.35,"r1":0.45,"r2":0.30},
{"t":"2008-03-07T18:00Z","h0":0.15,"h1":0.08,"h2":0.12,"p0":0.12,"p1":0.20,"p2":0.10,"q0":0.20,"q1":0.12,"q2":0.28,"r0":0.45,"r1":0.55,"r2":0.38},
{"t":"2008-03-07T21:00Z","h0":0.14,"h1":0.10,"h2":0.14,"p0":0.15,"p1":0.22,"p2":0.12,"q0":0.22,"q1":0.10,"q2":0.30,"r0":0.50,"r1":0.65,"r2":0.42},
{"t":"2008-03-08T00:00Z","h0":0.18,"h1":0.10,"h2":0.16,"p0":0.18,"p1":0.25,"p2":0.14,"q0":0.25,"q1":0.12,"q2":0.32,"r0":0.45,"r1":0.70,"r2":0.45},
{"t":"2008-03-08T03:00Z","h0":0.35,"h1":0.12,"h2":0.18,"p0":0.15,"p1":0.20,"p2":0.12,"q0":0.22,"q1":0.10,"q2":0.30,"r0":0.42,"r1":0.60,"r2":0.40},
{"t":"2008-03-08T06:00Z","h0":0.18,"h1":0.12,"h2":0.20,"p0":0.12,"p1":0.18,"p2":0.10,"q0":0.20,"q1":0.12,"q2":0.35,"r0":0.48,"r1":0.55,"r2":0.45},
{"t":"2008-03-08T09:00Z","h0":0.15,"h1":0.08,"h2":0.15,"p0":0.10,"p1":0.12,"p2":0.08,"q0":0.18,"q1":0.08,"q2":0.30,"r0":0.40,"r1":0.50,"r2":0.38},
{"t":"2008-03-08T21:00Z","h0":0.25,"h1":0.42,"h2":0.18,"p0":0.25,"p1":0.30,"p2":0.15,"q0":0.20,"q1":0.10,"q2":0.25,"r0":0.30,"r1":0.45,"r2":0.20},
{"t":"2008-03-09T00:00Z","h0":0.30,"h1":0.10,"h2":0.22,"p0":0.33,"p1":0.35,"p2":0.18,"q0":0.15,"q1":0.08,"q2":0.22,"r0":0.25,"r1":0.35,"r2":0.10},
{"t":"2008-03-09T03:00Z","h0":0.35,"h1":0.08,"h2":0.20,"p0":0.20,"p1":0.25,"p2":0.12,"q0":0.18,"q1":0.10,"q2":0.25,"r0":0.15,"r1":0.20,"r2":0.05},
{"t":"2008-03-09T06:00Z","h0":0.20,"h1":0.06,"h2":0.15,"p0":0.15,"p1":0.20,"p2":0.10,"q0":0.12,"q1":0.06,"q2":0.20,"r0":0.40,"r1":0.50,"r2":0.30},
{"t":"2008-03-09T09:00Z","h0":0.15,"h1":0.05,"h2":0.12,"p0":0.12,"p1":0.15,"p2":0.08,"q0":0.15,"q1":0.08,"q2":0.22,"r0":0.60,"r1":0.75,"r2":0.45},
{"t":"2008-03-09T12:00Z","h0":0.22,"h1":0.08,"h2":0.15,"p0":0.15,"p1":0.20,"p2":0.10,"q0":0.25,"q1":0.15,"q2":0.30,"r0":0.80,"r1":0.95,"r2":0.55},
{"t":"2008-03-09T15:00Z","h0":0.18,"h1":0.05,"h2":0.14,"p0":0.10,"p1":0.15,"p2":0.08,"q0":0.35,"q1":0.25,"q2":0.45,"r0":0.85,"r1":1.00,"r2":0.58},
{"t":"2008-03-09T18:00Z","h0":0.28,"h1":0.06,"h2":0.18,"p0":0.18,"p1":0.22,"p2":0.12,"q0":0.40,"q1":0.28,"q2":0.55,"r0":0.75,"r1":0.90,"r2":0.60},
{"t":"2008-03-09T21:00Z","h0":0.20,"h1":0.04,"h2":0.15,"p0":0.12,"p1":0.15,"p2":0.08,"q0":0.35,"q1":0.25,"q2":0.50,"r0":0.65,"r1":0.80,"r2":0.50},
{"t":"2008-03-10T00:00Z","h0":0.15,"h1":0.05,"h2":0.12,"p0":0.10,"p1":0.12,"p2":0.07,"q0":0.30,"q1":0.22,"q2":0.42,"r0":0.55,"r1":0.70,"r2":0.45},
{"t":"2008-03-10T03:00Z","h0":0.18,"h1":0.06,"h2":0.14,"p0":0.15,"p1":0.20,"p2":0.10,"q0":0.25,"q1":0.15,"q2":0.35,"r0":0.45,"r1":0.55,"r2":0.40},
{"t":"2008-03-10T06:00Z","h0":0.20,"h1":0.55,"h2":0.16,"p0":0.22,"p1":0.25,"p2":0.12,"q0":0.20,"q1":0.12,"q2":0.30,"r0":0.35,"r1":0.40,"r2":0.30},
{"t":"2008-03-10T09:00Z","h0":0.25,"h1":0.08,"h2":0.18,"p0":0.28,"p1":0.30,"p2":0.15,"q0":0.25,"q1":0.15,"q2":0.38,"r0":0.50,"r1":0.65,"r2":0.42},
{"t":"2008-03-10T12:00Z","h0":0.22,"h1":0.06,"h2":0.15,"p0":0.20,"p1":0.25,"p2":0.12,"q0":0.30,"q1":0.20,"q2":0.45,"r0":0.65,"r1":0.80,"r2":0.50},
{"t":"2008-03-10T15:00Z","h0":0.18,"h1":0.05,"h2":0.20,"p0":0.15,"p1":0.18,"p2":0.10,"q0":0.35,"q1":0.22,"q2":0.52,"r0":0.75,"r1":0.92,"r2":0.55},
{"t":"2008-03-10T18:00Z","h0":0.30,"h1":0.08,"h2":0.22,"p0":0.12,"p1":0.15,"p2":0.08,"q0":0.38,"q1":0.25,"q2":0.55,"r0":0.80,"r1":0.98,"r2":0.60},
{"t":"2008-03-10T21:00Z","h0":0.27,"h1":0.06,"h2":0.29,"p0":0.18,"p1":0.22,"p2":0.10,"q0":0.32,"q1":0.20,"q2":0.48,"r0":0.70,"r1":0.90,"r2":0.58},
{"t":"2008-03-11T00:00Z","h0":0.40,"h1":0.38,"h2":0.20,"p0":0.30,"p1":0.32,"p2":0.15,"q0":0.28,"q1":0.18,"q2":0.40,"r0":0.60,"r1":0.75,"r2":0.50},
{"t":"2008-03-11T03:00Z","h0":0.20,"h1":0.05,"h2":0.15,"p0":0.15,"p1":0.20,"p2":0.10,"q0":0.22,"q1":0.12,"q2":0.32,"r0":0.50,"r1":0.65,"r2":0.45},
{"t":"2008-03-11T06:00Z","h0":0.15,"h1":0.04,"h2":0.12,"p0":0.10,"p1":0.15,"p2":0.07,"q0":0.20,"q1":0.10,"q2":0.30,"r0":0.45,"r1":0.55,"r2":0.40},
{"t":"2008-03-11T09:00Z","h0":0.18,"h1":0.05,"h2":0.14,"p0":0.08,"p1":0.10,"p2":0.06,"q0":0.18,"q1":0.08,"q2":0.25,"r0":0.40,"r1":0.50,"r2":0.35},
{"t":"2008-03-11T12:00Z","h0":0.22,"h1":0.06,"h2":0.16,"p0":0.12,"p1":0.18,"p2":0.08,"q0":0.22,"q1":0.10,"q2":0.28,"r0":0.35,"r1":0.45,"r2":0.30},
{"t":"2008-03-11T15:00Z","h0":0.15,"h1":0.04,"h2":0.12,"p0":0.10,"p1":0.15,"p2":0.07,"q0":0.18,"q1":0.08,"q2":0.22,"r0":0.30,"r1":0.38,"r2":0.25},
{"t":"2008-03-11T18:00Z","h0":0.12,"h1":0.03,"h2":0.10,"p0":0.08,"p1":0.12,"p2":0.06,"q0":0.15,"q1":0.06,"q2":0.20,"r0":0.28,"r1":0.35,"r2":0.22},
{"t":"2008-03-11T21:00Z","h0":0.18,"h1":0.05,"h2":0.14,"p0":0.12,"p1":0.20,"p2":0.08,"q0":0.12,"q1":0.05,"q2":0.18,"r0":0.25,"r1":0.32,"r2":0.20},
{"t":"2008-03-12T00:00Z","h0":0.15,"h1":0.04,"h2":0.12,"p0":0.10,"p1":0.15,"p2":0.07,"q0":0.10,"q1":0.04,"q2":0.15,"r0":0.22,"r1":0.30,"r2":0.18},
{"t":"2008-03-12T03:00Z","h0":0.12,"h1":0.05,"h2":0.10,"p0":0.08,"p1":0.12,"p2":0.06,"q0":0.12,"q1":0.05,"q2":0.18,"r0":0.25,"r1":0.28,"r2":0.15},
{"t":"2008-03-12T06:00Z","h0":0.20,"h1":0.06,"h2":0.14,"p0":0.15,"p1":0.25,"p2":0.10,"q0":0.15,"q1":0.06,"q2":0.20,"r0":0.20,"r1":0.30,"r2":0.20},
{"t":"2008-03-12T09:00Z","h0":0.18,"h1":0.05,"h2":0.12,"p0":0.10,"p1":0.18,"p2":0.08,"q0":0.20,"q1":0.08,"q2":0.18,"r0":0.22,"r1":0.32,"r2":0.22},
{"t":"2008-03-12T12:00Z","h0":0.26,"h1":0.32,"h2":0.13,"p0":0.12,"p1":0.15,"p2":0.08,"q0":0.10,"q1":0.04,"q2":0.14,"r0":0.25,"r1":0.30,"r2":0.18},
{"t":"2008-03-12T15:00Z","h0":0.14,"h1":0.04,"h2":0.10,"p0":0.08,"p1":0.12,"p2":0.06,"q0":0.08,"q1":0.03,"q2":0.12,"r0":0.20,"r1":0.28,"r2":0.20},
{"t":"2008-03-12T18:00Z","h0":0.10,"h1":0.03,"h2":0.08,"p0":0.06,"p1":0.10,"p2":0.05,"q0":0.10,"q1":0.04,"q2":0.15,"r0":0.22,"r1":0.32,"r2":0.22},
{"t":"2008-03-12T21:00Z","h0":0.12,"h1":0.04,"h2":0.10,"p0":0.10,"p1":0.15,"p2":0.07,"q0":0.08,"q1":0.03,"q2":0.12,"r0":0.25,"r1":0.35,"r2":0.25},
{"t":"2008-03-13T00:00Z","h0":0.15,"h1":0.06,"h2":0.12,"p0":0.12,"p1":0.20,"p2":0.08,"q0":0.10,"q1":0.04,"q2":0.14,"r0":0.22,"r1":0.30,"r2":0.20},
{"t":"2008-03-13T03:00Z","h0":0.34,"h1":0.40,"h2":0.14,"p0":0.10,"p1":0.22,"p2":0.07,"q0":0.08,"q1":0.05,"q2":0.18,"r0":0.25,"r1":0.32,"r2":0.24},
{"t":"2008-03-13T06:00Z","h0":0.10,"h1":0.05,"h2":0.08,"p0":0.08,"p1":0.12,"p2":0.06,"q0":0.06,"q1":0.03,"q2":0.10,"r0":0.20,"r1":0.28,"r2":0.22}
]},
"spacing":13,
"bounds":"flush",
"resolve":{"scale":{"x":"independent","y":"independent","color":"independent"},"legend":{"color":"independent"}},
"vconcat":[
{"width":1029,"height":176,
 "resolve":{"axis":{"x":"independent","y":"independent"}},
 "layer":[
  {"mark":{"type":"point","shape":"square","filled":true,"size":44,"opacity":1,"clip":true},
   "encoding":{
    "x":{"field":"t","type":"temporal","scale":{"type":"utc","nice":false,"domain":[{"year":2008,"month":2,"date":6,"hours":11,"minutes":30,"utc":true},{"year":2008,"month":3,"date":13,"hours":7,"utc":true}]},"axis":{"labels":false,"ticks":false,"title":null,"domain":true}},
    "y":{"field":"h0","type":"quantitative","scale":{"domain":[0,1.048],"nice":false},"axis":{"values":[0,0.2,0.4,0.6,0.8,1],"format":".1f","title":null}},
    "color":{"datum":"fₚₑₐₖ=0","type":"nominal","scale":{"domain":["fₚₑₐₖ=0","fₚₑₐₖ=-0.6","fₚₑₐₖ=+0.6"],"range":["#000000","#0a4bff","#ff0000"]},
      "legend":{"orient":"none","legendX":108,"legendY":22,"title":null,"symbolType":"square","symbolSize":22,"symbolStrokeWidth":0,"labelFont":"Liberation Serif","labelFontSize":24,"labelColor":"#000","labelOffset":19,"rowPadding":6,"padding":0,"labelLimit":400}}}},
  {"mark":{"type":"point","shape":"square","filled":true,"size":28,"opacity":1,"clip":true},
   "encoding":{
    "x":{"field":"t","type":"temporal","scale":{"type":"utc","nice":false,"domain":[{"year":2008,"month":2,"date":6,"hours":11,"minutes":30,"utc":true},{"year":2008,"month":3,"date":13,"hours":7,"utc":true}]},"axis":{"orient":"top","labels":false,"ticks":false,"title":null,"domain":true}},
    "y":{"field":"h1","type":"quantitative","scale":{"domain":[0,1.048],"nice":false},"axis":{"orient":"right","labels":false,"ticks":false,"title":null,"domain":true}},
    "color":{"datum":"fₚₑₐₖ=-0.6","type":"nominal"}}},
  {"mark":{"type":"point","shape":"square","filled":true,"size":28,"opacity":1,"clip":true},
   "encoding":{
    "x":{"field":"t","type":"temporal","scale":{"type":"utc","nice":false,"domain":[{"year":2008,"month":2,"date":6,"hours":11,"minutes":30,"utc":true},{"year":2008,"month":3,"date":13,"hours":7,"utc":true}]},"axis":null},
    "y":{"field":"h2","type":"quantitative","scale":{"domain":[0,1.048],"nice":false},"axis":null},
    "color":{"datum":"fₚₑₐₖ=+0.6","type":"nominal"}}},
  {"data":{"values":[{}]},
   "mark":{"type":"text","font":"Liberation Serif","fontSize":24,"color":"#000","align":"center","baseline":"middle"},
   "encoding":{
    "x":{"datum":{"year":2008,"month":3,"date":10,"hours":3,"utc":true},"type":"temporal","scale":{"type":"utc","nice":false,"domain":[{"year":2008,"month":2,"date":6,"hours":11,"minutes":30,"utc":true},{"year":2008,"month":3,"date":13,"hours":7,"utc":true}]},"axis":null},
    "y":{"datum":0.78,"type":"quantitative","scale":{"domain":[0,1.048],"nice":false},"axis":null},
    "text":{"value":"HOA"}}},
  {"data":{"values":[{}]},
   "mark":{"type":"text","font":"Liberation Serif","fontSize":24,"fontWeight":"bold","color":"#000","align":"center","baseline":"middle"},
   "encoding":{
    "x":{"datum":{"year":2008,"month":3,"date":12,"hours":4,"utc":true},"type":"temporal","scale":{"type":"utc","nice":false,"domain":[{"year":2008,"month":2,"date":6,"hours":11,"minutes":30,"utc":true},{"year":2008,"month":3,"date":13,"hours":7,"utc":true}]},"axis":null},
    "y":{"datum":0.905,"type":"quantitative","scale":{"domain":[0,1.048],"nice":false},"axis":null},
    "text":{"value":"(b)"}}}
 ]},
{"width":1029,"height":176,
 "resolve":{"axis":{"x":"independent","y":"independent"}},
 "layer":[
  {"mark":{"type":"point","shape":"square","filled":true,"size":44,"opacity":1,"clip":true,"color":"#000000"},
   "encoding":{
    "x":{"field":"t","type":"temporal","scale":{"type":"utc","nice":false,"domain":[{"year":2008,"month":2,"date":6,"hours":11,"minutes":30,"utc":true},{"year":2008,"month":3,"date":13,"hours":7,"utc":true}]},"axis":{"labels":false,"ticks":false,"title":null,"domain":true}},
    "y":{"field":"p0","type":"quantitative","scale":{"domain":[0,1.82],"nice":false},"axis":{"values":[0,0.5,1,1.5],"format":".1f","title":"Factor Loading (μg m⁻³, STP)","titleY":276,"titlePadding":29,"labelFontSize":{"condition":{"test":"datum.value == 0","value":19},"value":22}}}}},
  {"mark":{"type":"point","shape":"square","filled":true,"size":28,"opacity":1,"clip":true,"color":"#0a4bff"},
   "encoding":{
    "x":{"field":"t","type":"temporal","scale":{"type":"utc","nice":false,"domain":[{"year":2008,"month":2,"date":6,"hours":11,"minutes":30,"utc":true},{"year":2008,"month":3,"date":13,"hours":7,"utc":true}]},"axis":null},
    "y":{"field":"p1","type":"quantitative","scale":{"domain":[0,1.82],"nice":false},"axis":{"orient":"right","labels":false,"ticks":false,"title":null,"domain":true}}}},
  {"mark":{"type":"point","shape":"square","filled":true,"size":28,"opacity":1,"clip":true,"color":"#ff0000"},
   "encoding":{
    "x":{"field":"t","type":"temporal","scale":{"type":"utc","nice":false,"domain":[{"year":2008,"month":2,"date":6,"hours":11,"minutes":30,"utc":true},{"year":2008,"month":3,"date":13,"hours":7,"utc":true}]},"axis":null},
    "y":{"field":"p2","type":"quantitative","scale":{"domain":[0,1.82],"nice":false},"axis":null}}},
  {"data":{"values":[{}]},
   "mark":{"type":"text","font":"Liberation Serif","fontSize":24,"color":"#000","align":"center","baseline":"middle"},
   "encoding":{
    "x":{"datum":{"year":2008,"month":3,"date":10,"hours":7,"utc":true},"type":"temporal","scale":{"type":"utc","nice":false,"domain":[{"year":2008,"month":2,"date":6,"hours":11,"minutes":30,"utc":true},{"year":2008,"month":3,"date":13,"hours":7,"utc":true}]},"axis":null},
    "y":{"datum":1.6,"type":"quantitative","scale":{"domain":[0,1.82],"nice":false},"axis":null},
    "text":{"value":"OOA-1"}}}
 ]},
{"width":1029,"height":176,
 "resolve":{"axis":{"x":"independent","y":"independent"}},
 "layer":[
  {"mark":{"type":"point","shape":"square","filled":true,"size":44,"opacity":1,"clip":true,"color":"#000000"},
   "encoding":{
    "x":{"field":"t","type":"temporal","scale":{"type":"utc","nice":false,"domain":[{"year":2008,"month":2,"date":6,"hours":11,"minutes":30,"utc":true},{"year":2008,"month":3,"date":13,"hours":7,"utc":true}]},"axis":{"labels":false,"ticks":false,"title":null,"domain":true}},
    "y":{"field":"q0","type":"quantitative","scale":{"domain":[0,2.11],"nice":false},"axis":{"values":[0,0.5,1,1.5,2],"format":".1f","title":null,"labelFontSize":{"condition":{"test":"datum.value == 0 || datum.value == 2","value":19},"value":22}}}}},
  {"mark":{"type":"point","shape":"square","filled":true,"size":28,"opacity":1,"clip":true,"color":"#0a4bff"},
   "encoding":{
    "x":{"field":"t","type":"temporal","scale":{"type":"utc","nice":false,"domain":[{"year":2008,"month":2,"date":6,"hours":11,"minutes":30,"utc":true},{"year":2008,"month":3,"date":13,"hours":7,"utc":true}]},"axis":null},
    "y":{"field":"q1","type":"quantitative","scale":{"domain":[0,2.11],"nice":false},"axis":{"orient":"right","labels":false,"ticks":false,"title":null,"domain":true}}}},
  {"mark":{"type":"point","shape":"square","filled":true,"size":28,"opacity":1,"clip":true,"color":"#ff0000"},
   "encoding":{
    "x":{"field":"t","type":"temporal","scale":{"type":"utc","nice":false,"domain":[{"year":2008,"month":2,"date":6,"hours":11,"minutes":30,"utc":true},{"year":2008,"month":3,"date":13,"hours":7,"utc":true}]},"axis":null},
    "y":{"field":"q2","type":"quantitative","scale":{"domain":[0,2.11],"nice":false},"axis":null}}},
  {"data":{"values":[{}]},
   "mark":{"type":"text","font":"Liberation Serif","fontSize":24,"color":"#000","align":"center","baseline":"middle"},
   "encoding":{
    "x":{"datum":{"year":2008,"month":3,"date":10,"hours":10,"utc":true},"type":"temporal","scale":{"type":"utc","nice":false,"domain":[{"year":2008,"month":2,"date":6,"hours":11,"minutes":30,"utc":true},{"year":2008,"month":3,"date":13,"hours":7,"utc":true}]},"axis":null},
    "y":{"datum":1.87,"type":"quantitative","scale":{"domain":[0,2.11],"nice":false},"axis":null},
    "text":{"value":"OOA-2"}}}
 ]},
{"width":1029,"height":176,
 "resolve":{"axis":{"x":"independent","y":"independent"}},
 "layer":[
  {"mark":{"type":"point","shape":"square","filled":true,"size":44,"opacity":1,"clip":true,"color":"#000000"},
   "encoding":{
    "x":{"field":"t","type":"temporal","scale":{"type":"utc","nice":false,"domain":[{"year":2008,"month":2,"date":6,"hours":11,"minutes":30,"utc":true},{"year":2008,"month":3,"date":13,"hours":7,"utc":true}]},
      "axis":{"values":[{"year":2008,"month":2,"date":11,"utc":true},{"year":2008,"month":2,"date":16,"utc":true},{"year":2008,"month":2,"date":21,"utc":true},{"year":2008,"month":2,"date":26,"utc":true},{"year":2008,"month":3,"date":2,"utc":true},{"year":2008,"month":3,"date":7,"utc":true},{"year":2008,"month":3,"date":12,"utc":true}],
       "labelExpr":"indexof([11,21,2,12], utcdate(datum.value)) >= 0 ? utcFormat(datum.value, '%b %-d, %Y') : ''",
       "tickSize":{"condition":{"test":"indexof([11,21,2,12], utcdate(datum.value)) < 0","value":11},"value":17},
       "labelPadding":6,"title":"Date and Time (UTC)","titlePadding":16}},
    "y":{"field":"r0","type":"quantitative","scale":{"domain":[0,1.257],"nice":false},
      "axis":{"values":[0,0.2,0.4,0.6,0.8,1,1.2],"labelExpr":"round(datum.value*10) % 4 == 0 ? format(datum.value, '.1f') : ''","tickSize":{"condition":{"test":"round(datum.value*10) % 4 != 0","value":9},"value":16},"labelFontSize":{"condition":{"test":"round(datum.value*10) == 12","value":19},"value":22},"title":null}}}},
  {"mark":{"type":"point","shape":"square","filled":true,"size":28,"opacity":1,"clip":true,"color":"#0a4bff"},
   "encoding":{
    "x":{"field":"t","type":"temporal","scale":{"type":"utc","nice":false,"domain":[{"year":2008,"month":2,"date":6,"hours":11,"minutes":30,"utc":true},{"year":2008,"month":3,"date":13,"hours":7,"utc":true}]},"axis":null},
    "y":{"field":"r1","type":"quantitative","scale":{"domain":[0,1.257],"nice":false},"axis":{"orient":"right","labels":false,"ticks":false,"title":null,"domain":true}}}},
  {"mark":{"type":"point","shape":"square","filled":true,"size":28,"opacity":1,"clip":true,"color":"#ff0000"},
   "encoding":{
    "x":{"field":"t","type":"temporal","scale":{"type":"utc","nice":false,"domain":[{"year":2008,"month":2,"date":6,"hours":11,"minutes":30,"utc":true},{"year":2008,"month":3,"date":13,"hours":7,"utc":true}]},"axis":null},
    "y":{"field":"r2","type":"quantitative","scale":{"domain":[0,1.257],"nice":false},"axis":null}}},
  {"data":{"values":[{}]},
   "mark":{"type":"text","font":"Liberation Serif","fontSize":24,"color":"#000","align":"center","baseline":"middle"},
   "encoding":{
    "x":{"datum":{"year":2008,"month":3,"date":10,"hours":16,"utc":true},"type":"temporal","scale":{"type":"utc","nice":false,"domain":[{"year":2008,"month":2,"date":6,"hours":11,"minutes":30,"utc":true},{"year":2008,"month":3,"date":13,"hours":7,"utc":true}]},"axis":null},
    "y":{"datum":1.0,"type":"quantitative","scale":{"domain":[0,1.257],"nice":false},"axis":null},
    "text":{"value":"OOA-3"}}}
 ]}
]
}
